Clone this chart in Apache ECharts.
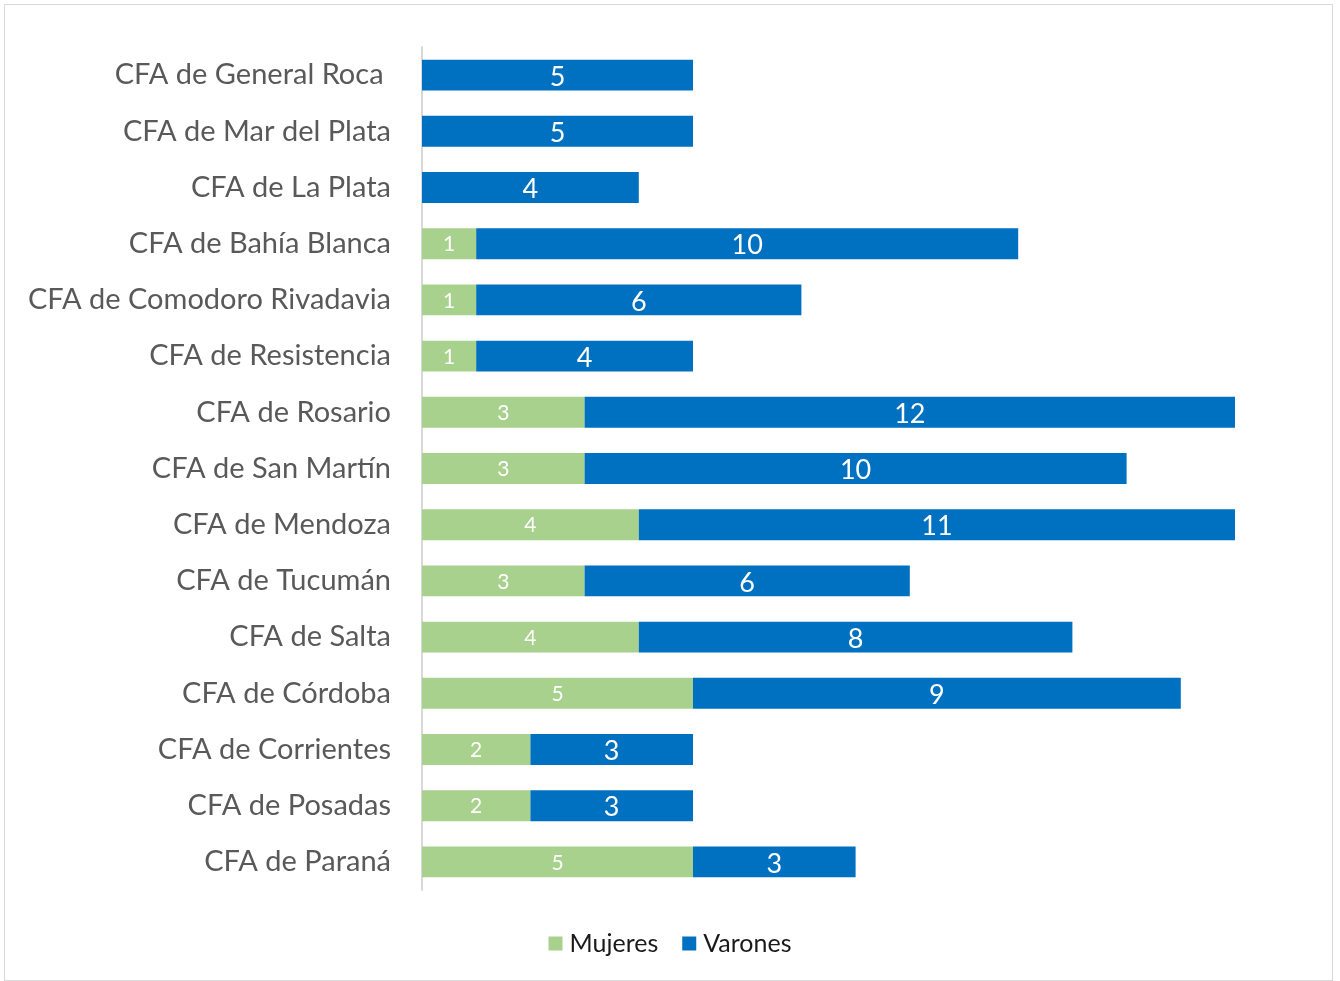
<!DOCTYPE html>
<html>
<head>
<meta charset="utf-8">
<script src="https://cdn.jsdelivr.net/npm/echarts@6/dist/echarts.min.js"></script>
<style>
  html, body { margin: 0; padding: 0; background: #fff; }
  #frame {
    position: absolute; left: 4px; top: 4px;
    width: 1327px; height: 975px;
    border: 1px solid #d9d9d9;
  }
  #chart { position: absolute; left: 0; top: 0; width: 1340px; height: 981px; }
</style>
</head>
<body>
<div id="frame"></div>
<div id="chart"></div>
<script>
// categories from top to bottom
const categories = [
  'CFA de General Roca ', 'CFA de Mar del Plata', 'CFA de La Plata',
  'CFA de Bahía Blanca', 'CFA de Comodoro Rivadavia', 'CFA de Resistencia',
  'CFA de Rosario', 'CFA de San Martín', 'CFA de Mendoza', 'CFA de Tucumán',
  'CFA de Salta', 'CFA de Córdoba', 'CFA de Corrientes', 'CFA de Posadas',
  'CFA de Paraná'
]
const mujeres = [0, 0, 0, 1, 1, 1, 3, 3, 4, 3, 4, 5, 2, 2, 5]
const varones = [5, 5, 4, 10, 6, 4, 12, 10, 11, 6, 8, 9, 3, 3, 3]

const font = 'Lato, "Open Sans", sans-serif'
const chart = echarts.init(document.getElementById('chart'))

chart.setOption({
  animation: false,
  textStyle: { fontFamily: font },
  grid: { left: 422, right: 105, top: 47, bottom: 91 },
  legend: {
    bottom: 20,
    left: 'center',
    itemWidth: 14,
    itemHeight: 14,
    itemGap: 24,
    icon: 'rect',
    textStyle: { fontSize: 25, color: '#1a1a1a', fontFamily: font, padding: [0, 0, 0, 2] },
    data: ['Mujeres', 'Varones']
  },
  xAxis: {
    type: 'value',
    min: 0,
    max: 15,
    show: false
  },
  yAxis: {
    type: 'category',
    inverse: true,
    data: categories,
    axisLine: { show: true, lineStyle: { color: '#d9d9d9', width: 2 } },
    axisTick: { show: false },
    axisLabel: { fontSize: 29, color: '#595959', margin: 31, fontFamily: font }
  },
  series: [
    {
      name: 'Mujeres',
      type: 'bar',
      stack: 'total',
      barCategoryGap: '45%',
      data: mujeres,
      itemStyle: { color: '#a9d18e' },
      label: {
        show: true,
        position: 'inside',
        color: '#fff',
        fontSize: 21,
        fontFamily: font,
        offset: [0, 1],
        formatter: p => (p.value ? p.value : '')
      }
    },
    {
      name: 'Varones',
      type: 'bar',
      stack: 'total',
      barCategoryGap: '45%',
      data: varones,
      itemStyle: { color: '#0070c0' },
      label: {
        show: true,
        position: 'inside',
        color: '#fff',
        fontSize: 27,
        fontFamily: font,
        offset: [0, 2]
      }
    }
  ]
})

window.addEventListener('resize', () => { chart.resize() })
</script>
</body>
</html>
